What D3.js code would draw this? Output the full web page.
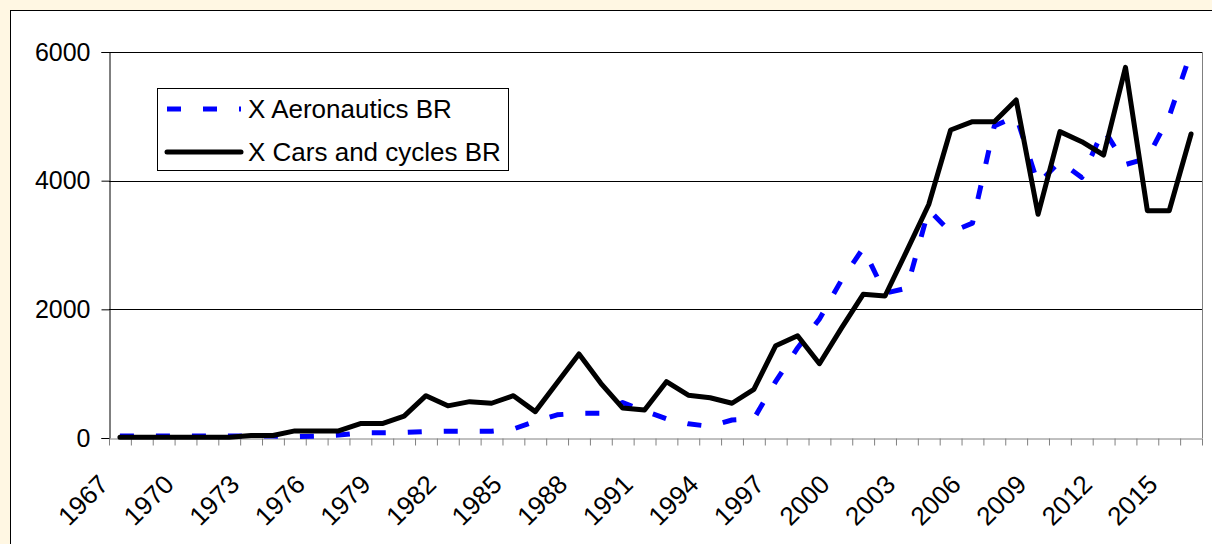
<!DOCTYPE html>
<html>
<head>
<meta charset="utf-8">
<script src="https://cdn.jsdelivr.net/npm/d3@7"></script>
<style>
  html, body { margin: 0; padding: 0; background: #fff7e3; }
  svg { display: block; }
  text { font-family: "Liberation Sans", Arial, sans-serif; fill: #000; }
</style>
</head>
<body>
<svg id="chart" width="1212" height="544"></svg>
<script>
// ---- data ----
const years = d3.range(1967, 2017).map(String);
const aeronautics = [
  30, 30, 30, 30, 30, 30, 30, 30, 20, 30,
  45, 80, 80, 85, 100, 105, 105, 105, 140, 260,
  360, 385, 385, 550, 420, 300, 220, 180, 280, 300,
  880, 1400, 1850, 2450, 2950, 2250, 2330, 3550, 3200, 3340,
  4850, 5000, 3950, 4300, 4050, 4800, 4250, 4350, 5000, 6000
];
const carsCycles = [
  10, 10, 10, 10, 10, 10, 40, 40, 110, 110,
  110, 225, 225, 340, 658, 500, 565, 540, 658, 410,
  860, 1306, 850, 465, 435, 875, 665, 625, 540, 757,
  1435, 1590, 1155, 1705, 2234, 2207, 2912, 3630, 4788, 4917,
  4917, 5254, 3477, 4762, 4606, 4399, 5762, 3533, 3533, 4726
];
const seriesNames = ["X Aeronautics BR", "X Cars and cycles BR"];
const yTicks = [0, 2000, 4000, 6000];
const xLabelYears = years.filter((d, i) => i % 3 === 0);

// ---- layout ----
const svg = d3.select("#chart");
const pLeft = 109, pRight = 1202, pTop = 52, pBottom = 438;

// white chart area
svg.append("rect").attr("x", 10.5).attr("y", 10.5).attr("width", 1220).attr("height", 560)
  .attr("fill", "#fff").attr("stroke", "#000").attr("stroke-width", 1);

const x = d3.scaleBand().domain(years).range([pLeft, pRight]).padding(0);
const y = d3.scaleLinear().domain([0, 6000]).range([pBottom, pTop]);
const cx = d => x(d) + x.bandwidth() / 2;

// gridlines
svg.append("g").selectAll("line").data(yTicks.filter(t => t > 0)).join("line")
  .attr("x1", pLeft).attr("x2", pRight)
  .attr("y1", d => Math.round(y(d)) + 0.5).attr("y2", d => Math.round(y(d)) + 0.5)
  .attr("stroke", "#000").attr("stroke-width", 1);

// right border of plot
svg.append("line").attr("x1", pRight + 0.5).attr("x2", pRight + 0.5)
  .attr("y1", pTop).attr("y2", pBottom).attr("stroke", "#808080");

// y axis
const yAxis = svg.append("g").attr("transform", `translate(${pLeft + 0.5},0)`)
  .call(d3.axisLeft(y).tickValues(yTicks).tickSize(8).tickPadding(11).tickFormat(d3.format("d")));
yAxis.select(".domain").attr("stroke", "#000");
yAxis.selectAll(".tick line").attr("stroke", "#000");
yAxis.selectAll("text").attr("font-size", 25).attr("font-family", null);

// x axis boundary ticks
const idx = d3.scaleLinear().domain([0, years.length]).range([pLeft, pRight]);
const xTickG = svg.append("g").attr("transform", `translate(0,${pBottom + 0.5})`)
  .call(d3.axisBottom(idx).tickValues(d3.range(0, years.length + 1)).tickSize(7).tickSizeOuter(0).tickFormat(""));
xTickG.select(".domain").attr("stroke", "#808080");
xTickG.selectAll(".tick line").attr("stroke", "#808080");

// x labels
const xLab = svg.append("g").attr("transform", `translate(0,${pBottom})`)
  .call(d3.axisBottom(x).tickValues(xLabelYears).tickSize(0).tickPadding(0));
xLab.select(".domain").remove();
xLab.selectAll("text")
  .attr("font-size", 26).attr("font-family", null)
  .attr("text-anchor", "end")
  .attr("dy", null).attr("y", 0)
  .attr("transform", "translate(-10,48) rotate(-45)");

// lines
const line = d3.line().x((d, i) => cx(years[i])).y(d => y(d));
svg.append("path").datum(aeronautics).attr("d", line)
  .attr("fill", "none").attr("stroke", "#0000ff").attr("stroke-width", 5)
  .attr("stroke-dasharray", "14,22").attr("stroke-linejoin", "round");
svg.append("path").datum(carsCycles).attr("d", line)
  .attr("fill", "none").attr("stroke", "#000").attr("stroke-width", 5)
  .attr("stroke-linejoin", "round").attr("stroke-linecap", "round");

// legend
const lg = svg.append("g");
lg.append("rect").attr("x", 157.5).attr("y", 88.5).attr("width", 351).attr("height", 82)
  .attr("fill", "#fff").attr("stroke", "#000").attr("stroke-width", 1);
const rows = [
  { name: seriesNames[0], y: 109, color: "#0000ff", dash: "14,22", cap: "butt" },
  { name: seriesNames[1], y: 152, color: "#000", dash: null, cap: "round" }
];
rows.forEach(r => {
  lg.append("line").attr("x1", 167).attr("x2", 241).attr("y1", r.y).attr("y2", r.y)
    .attr("stroke", r.color).attr("stroke-width", 5)
    .attr("stroke-dasharray", r.dash).attr("stroke-linecap", r.cap);
  lg.append("text").attr("x", 248).attr("y", r.y).attr("dy", "0.35em")
    .attr("font-size", 26).text(r.name);
});
</script>
</body>
</html>
